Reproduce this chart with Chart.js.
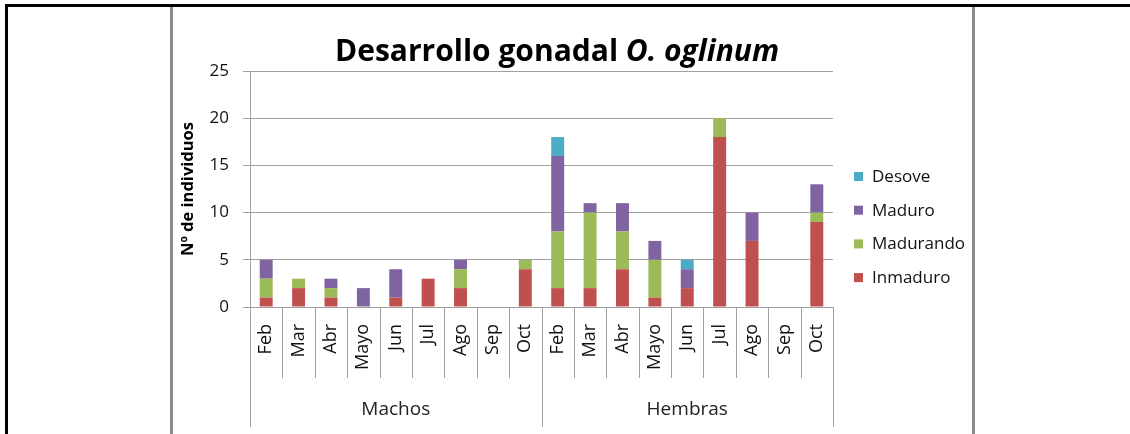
<!DOCTYPE html>
<html>
<head>
<meta charset="utf-8">
<script src="https://cdn.jsdelivr.net/npm/chart.js@4.4.0/dist/chart.umd.min.js"></script>
<style>
html,body{margin:0;padding:0;background:#fff;}
#wrap{width:1130px;height:434px;position:relative;}
</style>
</head>
<body>
<div id="wrap"><canvas id="c" width="1130" height="434"></canvas></div>
<script>
const categories = ['Feb','Mar','Abr','Mayo','Jun','Jul','Ago','Sep','Oct','Feb','Mar','Abr','Mayo','Jun','Jul','Ago','Sep','Oct'];
const groups = ['Machos','Hembras'];
const groupSizes = [9, 9];
const inmaduro  = [1,2,1,0,1,3,2,0,4, 2,2,4,1,2,18,7,0,9];
const madurando = [2,1,1,0,0,0,2,0,1, 6,8,4,4,0,2,0,0,1];
const maduro    = [2,0,1,2,3,0,1,0,0, 8,1,3,2,2,0,3,0,3];
const desove    = [0,0,0,0,0,0,0,0,0, 2,0,0,0,1,0,0,0,0];
const seriesNames = ['Inmaduro','Madurando','Maduro','Desove'];
const seriesColors = ['#C0504D','#9BBB59','#8064A2','#4BACC6'];
const yTicks = [0,5,10,15,20,25];
const titleMain = 'Desarrollo gonadal ';
const titleItalic = 'O. oglinum';
const yTitle = 'Nº de individuos';

const FONT = "'Open Sans', 'DejaVu Sans', sans-serif";
const GRID = '#a0a0a0';

const decor = {
  id: 'decor',
  beforeDraw(chart) {
    const ctx = chart.ctx;
    ctx.save();
    ctx.fillStyle = '#fff';
    ctx.fillRect(0, 0, chart.width, chart.height);
    ctx.fillStyle = '#000';
    ctx.fillRect(5, 4, chart.width - 5, 3);
    ctx.fillRect(5, 4, 3, chart.height - 4);
    ctx.fillStyle = '#8c8c8c';
    ctx.fillRect(170, 7, 3, chart.height - 7);
    ctx.fillRect(972, 7, 3, chart.height - 7);
    ctx.restore();
  },
  afterDraw(chart) {
    const ctx = chart.ctx;
    const xs = chart.scales.x;
    const ca = chart.chartArea;
    const half = (xs.getPixelForValue(1) - xs.getPixelForValue(0)) / 2;
    ctx.save();
    ctx.strokeStyle = GRID;
    ctx.lineWidth = 1;
    let idx = 0;
    const groupBounds = [0];
    groupSizes.forEach(s => { idx += s; groupBounds.push(idx); });
    for (let i = 0; i <= categories.length; i++) {
      const x = Math.round(xs.getPixelForValue(i) - half) + 0.5;
      const isGroup = groupBounds.includes(i);
      ctx.beginPath();
      ctx.moveTo(x, ca.bottom);
      ctx.lineTo(x, isGroup ? ca.bottom + 120 : ca.bottom + 71);
      ctx.stroke();
    }
    ctx.fillStyle = '#222';
    ctx.font = '19px ' + FONT;
    ctx.textAlign = 'center';
    ctx.textBaseline = 'middle';
    for (let g = 0; g < groups.length; g++) {
      const a = xs.getPixelForValue(groupBounds[g]) - half;
      const b = xs.getPixelForValue(groupBounds[g + 1] - 1) + half;
      ctx.fillText(groups[g], (a + b) / 2, ca.bottom + 103);
    }
    ctx.fillStyle = '#000';
    ctx.textBaseline = 'alphabetic';
    ctx.textAlign = 'left';
    const f1 = 'bold 30px ' + FONT;
    const f2 = 'italic bold 30px ' + FONT;
    ctx.font = f1; const w1 = ctx.measureText(titleMain).width;
    ctx.font = f2; const w2 = ctx.measureText(titleItalic).width;
    const tx = 557 - (w1 + w2) / 2;
    ctx.font = f1; ctx.fillText(titleMain, tx, 61);
    ctx.font = f2; ctx.fillText(titleItalic, tx + w1, 61);
    ctx.font = '17px ' + FONT;
    ctx.textBaseline = 'middle';
    const ds = chart.data.datasets;
    for (let k = 0; k < ds.length; k++) {
      const d = ds[ds.length - 1 - k];
      const y = 176 + k * 33.7;
      ctx.fillStyle = d.backgroundColor;
      ctx.fillRect(854, y - 4, 9, 9);
      ctx.fillStyle = '#111';
      ctx.fillText(d.label, 872, y + 1);
    }
    ctx.restore();
  }
};

const datasets = [inmaduro, madurando, maduro, desove].map((arr, i) => ({
  label: seriesNames[i],
  data: arr,
  backgroundColor: seriesColors[i],
  borderWidth: 0,
  categoryPercentage: 1.0,
  barPercentage: 0.4
}));

new Chart(document.getElementById('c'), {
  type: 'bar',
  data: { labels: categories, datasets },
  options: {
    responsive: false,
    animation: false,
    devicePixelRatio: 1,
    layout: { padding: { left: 170, right: 297, top: 71, bottom: 0 } },
    plugins: { legend: { display: false }, title: { display: false }, tooltip: { enabled: false } },
    scales: {
      x: {
        stacked: true,
        grid: { display: false, drawTicks: false },
        border: { display: true, color: GRID, width: 1 },
        ticks: {
          maxRotation: 90, minRotation: 90, autoSkip: false,
          padding: 17, color: '#111', font: { size: 18, family: FONT }
        },
        afterFit(scale) { scale.height = 434 - 307; }
      },
      y: {
        stacked: true,
        min: 0, max: 25,
        afterBuildTicks(scale) { scale.ticks = yTicks.map(v => ({ value: v })); },
        grid: { color: GRID, tickLength: 7, drawTicks: true },
        border: { display: true, color: GRID, width: 1 },
        ticks: { padding: 14, color: '#111', font: { size: 17, family: FONT } },
        title: { display: true, text: yTitle, color: '#000', font: { size: 16.5, weight: 'bold', family: FONT }, padding: { top: 8, bottom: 0 } },
        afterFit(scale) { scale.width = 250 - 170; }
      }
    }
  },
  plugins: [decor]
});
</script>
</body>
</html>
